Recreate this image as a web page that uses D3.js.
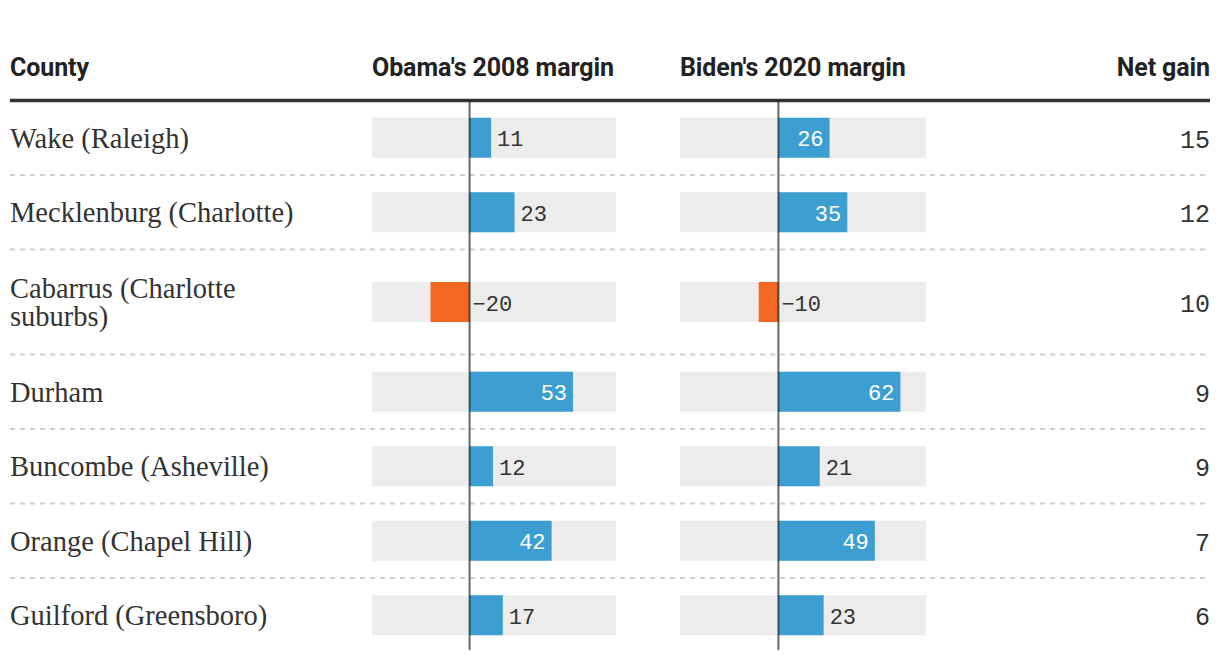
<!DOCTYPE html>
<html>
<head>
<meta charset="utf-8">
<script src="https://cdn.jsdelivr.net/npm/d3@7"></script>
<style>
  html, body { margin: 0; padding: 0; background: #fff; }
  svg { display: block; }
</style>
</head>
<body>
<svg id="chart" width="1220" height="660"></svg>
<script>
// ---- Data ----
const counties = [
  "Wake (Raleigh)",
  "Mecklenburg (Charlotte)",
  "Cabarrus (Charlotte suburbs)",
  "Durham",
  "Buncombe (Asheville)",
  "Orange (Chapel Hill)",
  "Guilford (Greensboro)"
];
const obama2008 = [11, 23, -20, 53, 12, 42, 17];
const biden2020 = [26, 35, -10, 62, 21, 49, 23];
const netGain = [15, 12, 10, 9, 9, 7, 6];
const headers = ["County", "Obama's 2008 margin", "Biden's 2020 margin", "Net gain"];
const marginDomain = [-50, 75];

// ---- Layout ----
const left = 10, right = 1210;
const ruleY = 100.5;
const rowH = 74.5, lineExtra = 30.5;
const barH = 40;
const blue = "#3d9fd1", orange = "#f26722", track = "#ececec", ink = "#333";
const labelMaxWidth = 320;

const svg = d3.select("#chart");

const xObama = d3.scaleLinear().domain(marginDomain).range([372, 616]);
const xBiden = d3.scaleLinear().domain(marginDomain).range([680, 926]);

// Headers
const hdr = svg.append("g")
  .attr("font-family", "Roboto, 'Liberation Sans', sans-serif")
  .attr("font-weight", 700)
  .attr("font-size", 25)
  .attr("fill", "#222")
  .attr("letter-spacing", "-0.1px");
hdr.append("text").attr("x", left).attr("y", 76).text(headers[0]);
hdr.append("text").attr("x", xObama.range()[0]).attr("y", 76).text(headers[1]);
hdr.append("text").attr("x", xBiden.range()[0]).attr("y", 76).text(headers[2]);
hdr.append("text").attr("x", right).attr("y", 76).attr("text-anchor", "end").text(headers[3]);

// Wrap labels into lines
const measure = svg.append("text")
  .attr("font-family", "'Liberation Serif', 'Times New Roman', serif")
  .attr("font-size", 28.5);
function wrap(str) {
  const words = str.split(" ");
  const lines = [];
  let cur = "";
  words.forEach(w => {
    const test = cur ? cur + " " + w : w;
    measure.text(test);
    if (measure.node().getComputedTextLength() > labelMaxWidth && cur) {
      lines.push(cur);
      cur = w;
    } else cur = test;
  });
  if (cur) lines.push(cur);
  return lines;
}
const rows = counties.map((c, i) => ({
  name: c, lines: wrap(c), obama: obama2008[i], biden: biden2020[i], net: netGain[i]
}));
measure.remove();

// Compute row positions
let y = ruleY;
rows.forEach(r => {
  r.top = y;
  r.h = rowH + (r.lines.length - 1) * lineExtra;
  r.center = y + r.h / 2;
  y += r.h;
  r.bottom = y;
});

// Separators (dashed)
svg.append("g").selectAll("line")
  .data(rows.slice(0, -1))
  .join("line")
  .attr("x1", left).attr("x2", right)
  .attr("y1", d => d.bottom).attr("y2", d => d.bottom)
  .attr("stroke", "#cfcfcf")
  .attr("stroke-width", 2)
  .attr("stroke-dasharray", "5,5");

// Row groups
const rowG = svg.append("g").selectAll("g.row")
  .data(rows)
  .join("g").attr("class", "row");

// County labels
rowG.append("text")
  .attr("font-family", "'Liberation Serif', 'Times New Roman', serif")
  .attr("font-size", 28.5)
  .attr("fill", ink)
  .each(function(d) {
    const t = d3.select(this);
    const n = d.lines.length;
    const lh = 28.5;
    const base = d.center + 10 - (n - 1) * lh / 2;
    d.lines.forEach((ln, k) => {
      t.append("tspan").attr("x", left).attr("y", base + k * lh).text(ln);
    });
  });

function drawBars(x, key) {
  const zero = x(0);
  // track
  rowG.append("rect")
    .attr("x", x.range()[0]).attr("width", x.range()[1] - x.range()[0])
    .attr("y", d => d.center - barH / 2).attr("height", barH)
    .attr("fill", track);
  // bar
  rowG.append("rect")
    .attr("x", d => Math.min(x(d[key]), zero))
    .attr("width", d => Math.abs(x(d[key]) - zero))
    .attr("y", d => d.center - barH / 2).attr("height", barH)
    .attr("fill", d => d[key] < 0 ? orange : blue);
  // value label
  rowG.append("text")
    .attr("font-family", "'Liberation Mono', 'DejaVu Sans Mono', monospace")
    .attr("font-size", 22)
    .attr("dy", "0.35em")
    .attr("y", d => d.center + 1)
    .attr("x", d => {
      if (d[key] < 0) return zero + 3;
      if (d[key] >= 25) return x(d[key]) - 6;
      return x(d[key]) + 6;
    })
    .attr("text-anchor", d => (d[key] >= 25 ? "end" : "start"))
    .attr("fill", d => (d[key] >= 25 ? "#fff" : ink))
    .text(d => d3.format("")(d[key]).replace("-", "\u2212"));
}
drawBars(xObama, "obama");
drawBars(xBiden, "biden");

// Net gain
rowG.append("text")
  .attr("font-family", "'Liberation Mono', 'DejaVu Sans Mono', monospace")
  .attr("font-size", 25)
  .attr("fill", ink)
  .attr("x", right)
  .attr("y", d => d.center + 1)
  .attr("dy", "0.35em")
  .attr("text-anchor", "end")
  .text(d => d.net);

// Zero lines
[xObama, xBiden].forEach(x => {
  svg.append("line")
    .attr("x1", x(0)).attr("x2", x(0))
    .attr("y1", ruleY).attr("y2", 650)
    .attr("stroke", "#000")
    .attr("stroke-opacity", 0.6)
    .attr("stroke-width", 2);
});

// Header rule
svg.append("line")
  .attr("x1", left).attr("x2", right)
  .attr("y1", ruleY).attr("y2", ruleY)
  .attr("stroke", "#333")
  .attr("stroke-width", 3.5);
</script>
</body>
</html>
